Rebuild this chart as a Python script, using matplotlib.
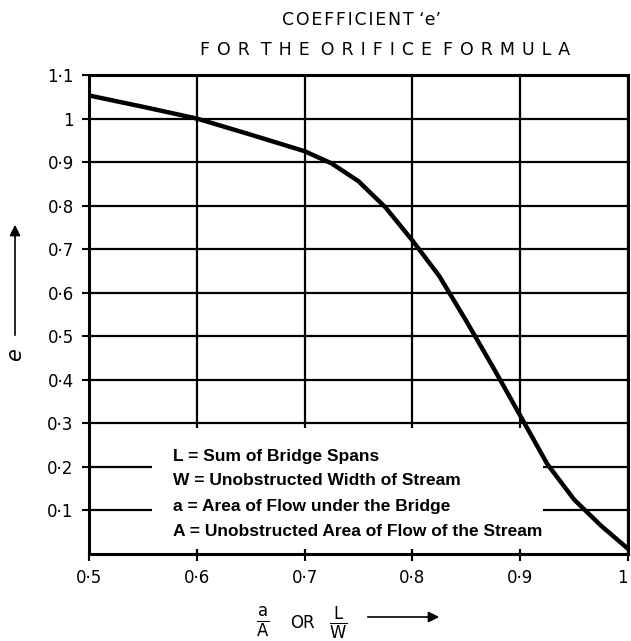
import matplotlib.pyplot as plt
from matplotlib.patches import Rectangle

# curve
ratio = [0.50, 0.55, 0.60, 0.65, 0.70, 0.725, 0.75, 0.775, 0.80, 0.825,
         0.85, 0.875, 0.90, 0.925, 0.95, 0.975, 1.00]
coef_e = [1.053, 1.027, 1.000, 0.963, 0.925, 0.897, 0.856, 0.796, 0.720, 0.638,
          0.535, 0.428, 0.318, 0.207, 0.125, 0.065, 0.012]

x_ticks = [0.5, 0.6, 0.7, 0.8, 0.9, 1.0]
y_ticks = [0.1, 0.2, 0.3, 0.4, 0.5, 0.6, 0.7, 0.8, 0.9, 1.0, 1.1]

title_lines = ["COEFFICIENT", "FOR THE ORIFICE FORMULA"]
notes = ["L = Sum of Bridge Spans",
         "W = Unobstructed Width of Stream",
         "a = Area of Flow under the Bridge",
         "A = Unobstructed Area of Flow of the Stream"]
note_y = [0.225, 0.168, 0.110, 0.052]


def dot_label(v):
    s = f"{v:.1f}".rstrip("0").rstrip(".")
    return s.replace(".", "\u00b7")


def spaced(s, gap):
    return "  ".join(gap.join(w) for w in s.split(" "))


W, H = 631, 641
fig = plt.figure(figsize=(W / 100, H / 100), dpi=100)
ax = fig.add_axes([89 / W, 1 - 554 / H, (628 - 89) / W, (554 - 75) / H])

ax.set_xlim(0.5, 1.0)
ax.set_ylim(0, 1.1)
ax.set_xticks(x_ticks)
ax.set_yticks(y_ticks)
ax.set_xticklabels([dot_label(v) for v in x_ticks], fontsize=12)
ax.set_yticklabels([dot_label(v) for v in y_ticks], fontsize=12)
ax.get_xticklabels()[-1].set_horizontalalignment("right")
ax.tick_params(direction="out", length=5, width=1.5, pad=6)
ax.set_axisbelow(True)
ax.grid(True, color="black", lw=1.6)
for sp in ax.spines.values():
    sp.set_linewidth(2.2)

# blank area behind the notes
ax.add_patch(Rectangle((0.558, 0.012), 0.363, 0.278, facecolor="white",
                       edgecolor="none", zorder=1))

ax.plot(ratio, coef_e, color="black", lw=3.2, zorder=3, solid_capstyle="round",
        solid_joinstyle="round")

for txt, yy in zip(notes, note_y):
    ax.text(0.578, yy, txt, fontsize=12.5, fontweight="bold", va="center",
            family=["Liberation Sans", "DejaVu Sans"], zorder=4)

fig.text(362 / W, 1 - 20 / H,
         spaced(title_lines[0], "\u200a") + " \u2018e\u2019",
         ha="center", va="center", fontsize=12.5)
fig.text(385 / W, 1 - 50 / H, spaced(title_lines[1], "\u2009\u2009"),
         ha="center", va="center", fontsize=12.5)

# x label with arrow
fig.text(263 / W, 1 - 623 / H, r"$\frac{\mathrm{a}}{\mathrm{A}}$", ha="center",
         va="center", fontsize=17)
fig.text(302 / W, 1 - 623 / H, "OR", ha="center", va="center", fontsize=12)
fig.text(338 / W, 1 - 623 / H, r"$\frac{\mathrm{L}}{\mathrm{W}}$", ha="center",
         va="center", fontsize=17)
fig.add_artist(plt.Annotation("", xy=(442 / W, 1 - 617 / H), xytext=(365 / W, 1 - 617 / H),
                              xycoords="figure fraction",
                              arrowprops=dict(arrowstyle="-|>", color="black",
                                              lw=1.2, mutation_scale=16)))

# y label with arrow
fig.text(15 / W, 1 - 355 / H, "e", rotation=90, ha="center", va="center",
         fontsize=15, style="italic")
fig.add_artist(plt.Annotation("", xy=(15 / W, 1 - 222 / H), xytext=(15 / W, 1 - 338 / H),
                              xycoords="figure fraction",
                              arrowprops=dict(arrowstyle="-|>", color="black",
                                              lw=1.2, mutation_scale=16)))

fig.savefig("out.png", dpi=100)
